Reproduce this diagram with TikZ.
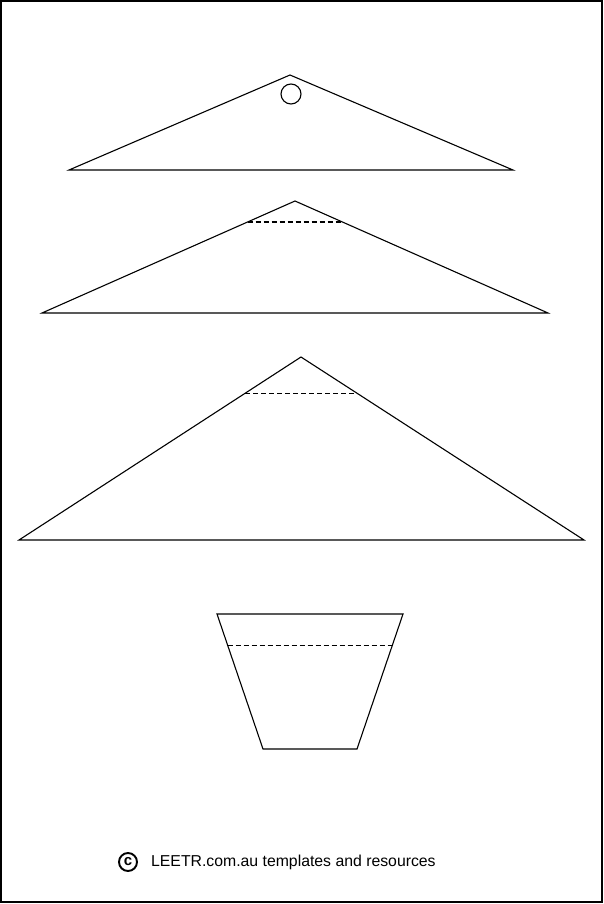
\documentclass[tikz,border=0pt]{standalone}
\usepackage{fontspec}
\setmainfont{Liberation Sans}
\usetikzlibrary{positioning,calc}

\tikzset{
	contour/.style={line width=1.1pt, line join=miter},
	pli/.style={line width=1.1pt, dash pattern=on 5pt off 3pt},
}

\begin{document}
\begin{tikzpicture}[x=1pt, y=-1pt]
		\useasboundingbox (0,0) rectangle (604,904);
		%cadre de la page
		\draw[line width=2pt] (1,1) rectangle (602,902);

		%triangle du haut avec le trou
		\coordinate (t1 g) at (69,170);
		\coordinate (t1 s) at (290,75);
		\coordinate (t1 d) at (513,170);
		\draw[contour] (t1 g) -- (t1 s) -- (t1 d) -- cycle;
		\node (trou) at (291,94) [circle, draw, line width=1.1pt, minimum size=20pt, inner sep=0pt] {};

		%triangle du milieu
		\coordinate (t2 g) at (42,313);
		\coordinate (t2 s) at (295,201);
		\coordinate (t2 d) at (548,313);
		\draw[contour] (t2 g) -- (t2 s) -- (t2 d) -- cycle;
		\draw[pli] ($(t2 s)!0.1875!(t2 g)$) -- ($(t2 s)!0.1875!(t2 d)$);

		%grand triangle
		\coordinate (t3 g) at (19,540);
		\coordinate (t3 s) at (301,357);
		\coordinate (t3 d) at (584,540);
		\draw[contour] (t3 g) -- (t3 s) -- (t3 d) -- cycle;
		\draw[pli] ($(t3 s)!0.197!(t3 g)$) -- ($(t3 s)!0.197!(t3 d)$);

		%le pot
		\coordinate (pot hg) at (217,614);
		\coordinate (pot hd) at (403,614);
		\coordinate (pot bd) at (357,749);
		\coordinate (pot bg) at (263,749);
		\draw[contour] (pot hg) -- (pot hd) -- (pot bd) -- (pot bg) -- cycle;
		\draw[pli] ($(pot hg)!0.23!(pot bg)$) -- ($(pot hd)!0.23!(pot bd)$);

		%pied de page
		\node (copy) at (128,862) [circle, draw, line width=1.9pt, minimum size=18pt, inner sep=0pt, font=\fontsize{15}{15}\selectfont\bfseries] {c};
		\node (site) [right=13pt of copy, inner sep=0pt, font=\fontsize{15.8}{16}\selectfont] {LEETR.com.au templates and resources};
\end{tikzpicture}
\end{document}
